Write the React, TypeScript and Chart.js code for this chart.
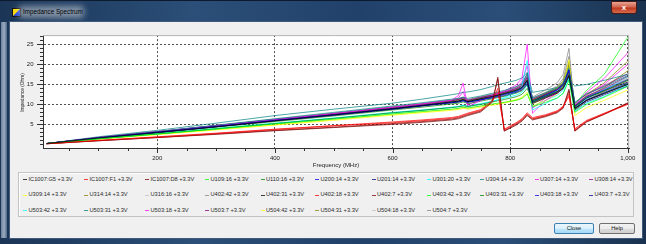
import React, { useEffect, useRef } from 'react';
import { Chart, registerables } from 'chart.js';

Chart.register(...registerables);

// ---------------- data ----------------
const FREQ_MHZ = [12, 100, 200, 300, 400, 500, 600, 650, 700, 712, 720, 728, 750, 770, 779, 790, 810, 820, 829, 838, 860, 880, 890, 900, 910, 930, 960, 1000];

const SERIES_NAMES = [
  'IC1007:G5 +3.3V', 'IC1007:F1 +3.3V', 'IC1007:D8 +3.3V', 'U109:16 +3.3V', 'U110:16 +3.3V', 'U200:14 +3.3V',
  'U201:14 +3.3V', 'U301:20 +3.3V', 'U304:14 +3.3V', 'U307:14 +3.3V', 'U308:14 +3.3V',
  'U309:14 +3.3V', 'U314:14 +3.3V', 'U316:16 +3.3V', 'U402:42 +3.3V', 'U402:31 +3.3V', 'U402:18 +3.3V',
  'U402:7 +3.3V', 'U403:42 +3.3V', 'U403:31 +3.3V', 'U403:18 +3.3V', 'U403:7 +3.3V',
  'U503:42 +3.3V', 'U503:31 +3.3V', 'U503:18 +3.3V', 'U503:7 +3.3V', 'U504:42 +3.3V', 'U504:31 +3.3V',
  'U504:18 +3.3V', 'U504:7 +3.3V',
];

const SERIES_COLORS = [
  '#000000', '#ff0000', '#800000', '#00ff00', '#008000', '#0000ff', '#000080', '#00ffff', '#008080', '#ff00ff', '#800080',
  '#ffff00', '#808000', '#c0c0c0', '#808080', '#000000', '#ff0000', '#800000', '#00ff00', '#008000', '#0000ff', '#000080',
  '#00ffff', '#008080', '#ff00ff', '#800080', '#ffff00', '#808000', '#c0c0c0', '#808080',
];

const IC1007_G5 = [0.2, 1.6, 3.0, 4.4, 5.9, 7.4, 8.9, 9.7, 10.6, 10.8, 11.2, 10.7, 11.4, 12.0, 12.3, 12.7, 13.5, 14.2, 16.0, 10.2, 11.6, 12.8, 13.9, 17.2, 9.0, 11.0, 12.7, 15.0];
const IC1007_F1 = [0.15, 1.0, 1.8, 2.7, 3.7, 4.6, 5.4, 5.9, 6.5, 6.8, 7.2, 7.6, 8.5, 10.8, 14.0, 3.6, 5.2, 6.2, 7.6, 6.4, 7.2, 8.2, 9.3, 12.6, 3.6, 5.8, 7.6, 10.0];
const IC1007_D8 = [0.15, 0.9, 1.7, 2.5, 3.4, 4.2, 5.0, 5.5, 6.1, 6.4, 6.8, 7.2, 8.1, 10.6, 16.8, 3.3, 4.8, 5.8, 7.2, 6.1, 6.9, 7.9, 9.0, 13.4, 3.3, 5.6, 7.5, 10.3];
const U109_16 = [0.2, 1.4, 2.6, 3.8, 5.1, 6.3, 7.6, 8.2, 8.8, 9.0, 9.3, 9.1, 9.6, 10.1, 10.3, 10.5, 11.0, 11.5, 12.6, 9.4, 10.5, 11.6, 12.7, 16.0, 8.0, 10.0, 11.8, 14.5];
const U110_16 = [0.2, 1.4, 2.6, 3.9, 5.2, 6.5, 7.9, 8.5, 9.2, 9.4, 9.6, 9.5, 10.0, 10.6, 10.9, 11.2, 11.9, 12.5, 14.0, 10.8, 12.0, 13.2, 14.4, 17.8, 9.5, 11.6, 13.4, 16.0];
const U200_14 = [0.2, 1.6, 3.0, 4.5, 6.0, 7.4, 8.9, 9.7, 10.5, 10.7, 11.0, 10.6, 11.2, 11.8, 12.1, 12.5, 13.3, 14.0, 15.8, 10.8, 12.2, 13.5, 14.8, 18.6, 9.6, 11.8, 13.6, 16.2];
const U201_14 = [0.2, 1.6, 3.0, 4.4, 5.9, 7.3, 8.8, 9.6, 10.4, 10.6, 10.9, 10.5, 11.1, 11.6, 11.9, 12.2, 13.0, 13.6, 15.2, 10.4, 11.8, 13.0, 14.1, 17.0, 9.0, 11.0, 12.8, 15.0];
const U301_20 = [0.2, 1.4, 2.6, 3.9, 5.2, 6.5, 7.8, 8.5, 9.2, 9.4, 9.8, 9.4, 10.0, 10.7, 11.2, 11.7, 13.0, 14.5, 21.0, 8.6, 10.2, 11.6, 12.8, 16.5, 8.3, 10.3, 12.0, 14.8];
const U304_14 = [0.2, 1.7, 3.2, 4.8, 6.4, 8.0, 9.6, 10.4, 11.3, 11.5, 11.8, 11.5, 12.1, 12.8, 13.1, 13.5, 14.4, 15.2, 17.8, 11.6, 12.9, 14.1, 15.2, 19.0, 10.5, 12.6, 14.4, 17.2];
const U307_14 = [0.2, 1.7, 3.2, 4.7, 6.2, 7.7, 9.3, 10.1, 11.0, 12.2, 15.3, 9.4, 11.0, 12.2, 12.7, 13.3, 14.8, 16.5, 25.0, 7.8, 11.0, 12.8, 14.0, 17.8, 9.8, 13.0, 16.5, 22.9];
const U308_14 = [0.2, 1.7, 3.1, 4.6, 6.1, 7.6, 9.2, 10.0, 10.9, 11.2, 11.6, 11.0, 11.7, 12.3, 12.6, 13.0, 13.8, 14.6, 16.6, 11.2, 12.6, 13.8, 15.0, 18.4, 9.8, 12.0, 14.0, 17.0];
const U309_14 = [0.2, 1.3, 2.4, 3.6, 4.8, 6.0, 7.3, 7.9, 8.5, 8.7, 9.0, 8.8, 9.3, 9.8, 10.0, 10.3, 11.0, 11.5, 12.6, 9.6, 11.0, 12.6, 14.4, 21.2, 7.2, 9.2, 11.0, 13.6];
const U314_14 = [0.2, 1.6, 3.0, 4.5, 6.0, 7.5, 9.1, 9.9, 10.8, 11.0, 11.3, 10.9, 11.5, 12.1, 12.4, 12.8, 13.6, 14.3, 16.2, 11.0, 12.6, 14.0, 15.4, 19.8, 9.2, 12.4, 15.4, 20.8];
const U316_16 = [0.2, 1.6, 3.1, 4.6, 6.1, 7.6, 9.2, 10.0, 10.8, 11.0, 11.4, 11.0, 11.6, 12.2, 12.5, 12.9, 13.7, 14.4, 16.4, 11.4, 12.9, 14.2, 15.5, 19.4, 10.0, 12.2, 14.0, 16.6];
const U402_42 = [0.2, 1.7, 3.2, 4.7, 6.3, 7.8, 9.4, 10.2, 11.1, 11.3, 11.6, 11.2, 11.9, 12.6, 12.9, 13.3, 14.2, 15.0, 17.2, 11.8, 13.6, 15.4, 17.5, 24.0, 8.2, 11.0, 13.2, 16.0];
const U402_31 = [0.2, 1.6, 3.0, 4.5, 6.0, 7.5, 9.0, 9.8, 10.7, 10.9, 11.2, 10.8, 11.5, 12.1, 12.4, 12.8, 13.6, 14.3, 16.2, 10.9, 12.4, 13.7, 15.0, 18.8, 9.4, 11.6, 13.4, 15.6];
const U402_18 = [0.15, 1.0, 1.9, 2.8, 3.8, 4.7, 5.6, 6.1, 6.7, 7.0, 7.4, 7.8, 8.7, 11.2, 13.0, 3.8, 5.4, 6.4, 7.9, 6.7, 7.4, 8.4, 9.5, 12.0, 3.9, 6.0, 7.8, 10.1];
const U402_7 = [0.15, 0.9, 1.7, 2.6, 3.5, 4.3, 5.2, 5.7, 6.3, 6.6, 7.0, 7.4, 8.3, 10.9, 16.3, 3.4, 5.0, 6.0, 7.4, 6.3, 7.1, 8.1, 9.2, 13.8, 3.4, 5.7, 7.6, 10.4];
const U403_42 = [0.2, 1.6, 3.0, 4.5, 6.0, 7.5, 9.0, 9.8, 10.6, 10.8, 11.1, 10.7, 11.3, 11.9, 12.2, 12.6, 13.4, 14.1, 15.8, 11.0, 12.6, 14.0, 15.4, 19.5, 10.0, 13.5, 17.5, 26.8];
const U403_31 = [0.2, 1.5, 2.9, 4.3, 5.7, 7.1, 8.6, 9.3, 10.1, 10.3, 10.6, 10.2, 10.8, 11.4, 11.7, 12.0, 12.8, 13.4, 15.0, 10.6, 12.0, 13.2, 14.4, 17.6, 8.8, 11.0, 12.8, 15.2];
const U403_18 = [0.2, 1.6, 3.1, 4.6, 6.1, 7.6, 9.1, 9.9, 10.8, 11.0, 11.3, 10.9, 11.5, 12.1, 12.4, 12.8, 13.6, 14.4, 16.8, 10.8, 12.3, 13.6, 14.8, 18.2, 9.0, 11.2, 13.0, 15.4];
const U403_7 = [0.2, 1.5, 2.9, 4.4, 5.9, 7.3, 8.8, 9.6, 10.4, 10.6, 10.9, 10.6, 11.2, 11.8, 12.1, 12.5, 13.2, 13.9, 15.6, 10.6, 12.0, 13.2, 14.3, 17.4, 8.6, 10.6, 12.4, 14.6];
const U503_42 = [0.2, 1.4, 2.7, 4.0, 5.3, 6.6, 8.0, 8.6, 9.3, 9.5, 9.8, 9.6, 10.2, 10.8, 11.1, 11.5, 12.3, 13.0, 14.8, 9.5, 11.0, 12.3, 13.5, 17.0, 9.2, 11.5, 13.6, 16.8];
const U503_31 = [0.2, 1.9, 3.5, 5.3, 7.2, 8.8, 10.3, 11.3, 12.4, 12.7, 13.0, 13.1, 13.7, 14.5, 14.9, 15.3, 16.0, 16.6, 18.0, 13.0, 13.6, 14.2, 14.8, 16.0, 14.6, 15.0, 16.0, 17.5];
const U503_18 = [0.2, 1.7, 3.1, 4.6, 6.1, 7.6, 9.1, 9.9, 10.8, 11.6, 13.2, 9.9, 11.2, 12.0, 12.5, 13.0, 14.3, 15.6, 19.7, 9.0, 11.6, 13.0, 14.2, 18.0, 9.4, 12.2, 15.0, 20.0];
const U503_7 = [0.2, 1.7, 3.2, 4.7, 6.2, 7.7, 9.3, 10.1, 11.0, 11.3, 11.8, 11.1, 11.8, 12.4, 12.7, 13.1, 14.0, 14.8, 17.4, 11.4, 12.8, 14.0, 15.2, 18.6, 10.2, 12.6, 14.6, 17.6];
const U504_42 = [0.2, 1.3, 2.5, 3.7, 4.9, 6.2, 7.5, 8.1, 8.7, 8.9, 9.2, 9.0, 9.5, 10.0, 10.2, 10.5, 11.2, 11.8, 13.0, 10.2, 11.6, 13.0, 14.4, 18.5, 8.6, 11.0, 13.2, 16.2];
const U504_31 = [0.2, 1.6, 3.0, 4.5, 6.0, 7.5, 9.0, 9.8, 10.7, 10.9, 11.2, 10.8, 11.4, 12.0, 12.3, 12.7, 13.5, 14.2, 16.0, 11.2, 12.8, 14.3, 15.8, 20.6, 9.6, 12.0, 14.2, 18.4];
const U504_18 = [0.2, 1.6, 3.1, 4.6, 6.1, 7.6, 9.1, 9.9, 10.8, 11.0, 11.3, 10.9, 11.5, 12.1, 12.4, 12.8, 13.6, 14.3, 16.0, 11.6, 13.0, 14.4, 15.8, 20.0, 10.4, 12.8, 14.8, 17.8];
const U504_7 = [0.2, 1.7, 3.1, 4.7, 6.2, 7.7, 9.2, 10.0, 10.9, 11.1, 11.4, 11.0, 11.7, 12.3, 12.6, 13.0, 13.9, 14.6, 16.8, 11.5, 13.0, 14.6, 16.4, 22.0, 9.0, 11.8, 13.8, 16.4];

const SERIES_VALUES = [
  IC1007_G5, IC1007_F1, IC1007_D8, U109_16, U110_16, U200_14, U201_14, U301_20, U304_14, U307_14, U308_14,
  U309_14, U314_14, U316_16, U402_42, U402_31, U402_18, U402_7, U403_42, U403_31, U403_18, U403_7,
  U503_42, U503_31, U503_18, U503_7, U504_42, U504_31, U504_18, U504_7,
];

const X_TICKS = [50, 100, 150, 200, 250, 300, 350, 400, 450, 500, 550, 600, 650, 700, 750, 800, 850, 900, 950, 1000];
const X_LABELED = [200, 400, 600, 800, 1000];
const Y_TICKS = [0, 1, 2, 3, 4, 5, 6, 7, 8, 9, 10, 11, 12, 13, 14, 15, 16, 17, 18, 19, 20, 21, 22, 23, 24, 25, 26, 27];
const Y_LABELED = [5, 10, 15, 20, 25];
const X_RANGE = [5.7, 1002.2];
const Y_RANGE = [-0.91, 27.32];

const X_TITLE = 'Frequency (MHz)';
const Y_TITLE = 'Impedance (Ohm)';
const WINDOW_TITLE = 'Impedance Spectrum';

const FONT = '"Liberation Sans", Arial, sans-serif';

const decorPlugin = {
  id: 'decor',
  beforeDraw(chart: any) {
    const { ctx, chartArea: a } = chart;
    ctx.save();
    ctx.fillStyle = '#ffffff';
    ctx.fillRect(a.left, a.top, a.right - a.left, a.bottom - a.top);
    ctx.restore();
  },
  afterDraw(chart: any) {
    const { ctx, chartArea: a, scales } = chart;
    const xs = scales.x;
    const ys = scales.y;
    ctx.save();
    ctx.lineWidth = 1;
    ctx.strokeStyle = '#b4b4b4';
    ctx.beginPath();
    ctx.moveTo(a.left, a.top + 0.5);
    ctx.lineTo(a.right - 0.5, a.top + 0.5);
    ctx.lineTo(a.right - 0.5, a.bottom);
    ctx.stroke();

    ctx.strokeStyle = '#333333';
    ctx.beginPath();
    for (const v of X_TICKS) {
      const px = Math.round(xs.getPixelForValue(v)) + 0.5;
      const len = X_LABELED.includes(v) ? 5 : 3;
      ctx.moveTo(px, a.bottom);
      ctx.lineTo(px, a.bottom + len);
    }
    for (const v of Y_TICKS) {
      const py = Math.round(ys.getPixelForValue(v)) + 0.5;
      const len = Y_LABELED.includes(v) ? 6 : 3;
      ctx.moveTo(a.left, py);
      ctx.lineTo(a.left - len, py);
    }
    ctx.stroke();

    ctx.fillStyle = '#222222';
    ctx.textAlign = 'center';
    ctx.textBaseline = 'middle';
    ctx.font = `6px ${FONT}`;
    ctx.fillText(X_TITLE, (a.left + a.right) / 2, 143);
    ctx.translate(12.7, 70.5);
    ctx.rotate(-Math.PI / 2);
    ctx.font = `4.8px ${FONT}`;
    ctx.fillText(Y_TITLE, 0, 0);
    ctx.restore();
  },
};

const LEGEND_COLS = [13, 74, 135, 195, 250.5, 305, 361.5, 417, 470, 524.5, 579];
const LEGEND_ROWS = [157.5, 173, 188.5];

export default function App() {
  const ref = useRef<HTMLCanvasElement>(null);

  useEffect(() => {
    const canvas = ref.current;
    if (!canvas) return;
    const datasets = SERIES_NAMES.map((name, i) => ({
      label: name,
      data: SERIES_VALUES[i].map((v, j) => ({ x: FREQ_MHZ[j], y: v })),
      borderColor: SERIES_COLORS[i],
      backgroundColor: SERIES_COLORS[i],
      borderWidth: 0.7,
      pointRadius: 0,
      pointHoverRadius: 0,
      tension: 0,
      fill: false,
    }));
    const chart = new Chart(canvas, {
      type: 'line',
      data: { datasets },
      plugins: [decorPlugin],
      options: {
        responsive: false,
        animation: false,
        devicePixelRatio: 1,
        events: [],
        layout: { padding: { left: 0, top: 8, right: 9, bottom: 0 }, autoPadding: false },
        plugins: { legend: { display: false }, tooltip: { enabled: false } },
        scales: {
          x: {
            type: 'linear',
            min: X_RANGE[0],
            max: X_RANGE[1],
            afterBuildTicks: (ax: any) => { ax.ticks = X_TICKS.map((v) => ({ value: v })); },
            afterFit: (ax: any) => { ax.height = 22; },
            ticks: {
              autoSkip: false, maxRotation: 0, minRotation: 0, padding: 6.7, color: '#222222',
              font: { family: FONT, size: 6 },
              callback: (v: any) => (X_LABELED.includes(Number(v)) ? Number(v).toLocaleString('en-US') : ''),
            },
            grid: {
              drawTicks: false,
              lineWidth: 1,
              color: (c: any) => (c.tick && X_LABELED.includes(c.tick.value) ? '#505050' : 'rgba(0,0,0,0)'),
            },
            border: { display: true, color: '#333333', width: 1, dash: [2, 2] },
          },
          y: {
            type: 'linear',
            min: Y_RANGE[0],
            max: Y_RANGE[1],
            afterBuildTicks: (ax: any) => { ax.ticks = Y_TICKS.map((v) => ({ value: v })); },
            afterFit: (ax: any) => { ax.width = 33; },
            ticks: {
              autoSkip: false, padding: 9.5, color: '#222222',
              font: { family: FONT, size: 6 },
              callback: (v: any) => (Y_LABELED.includes(Number(v)) ? String(v) : ''),
            },
            grid: {
              drawTicks: false,
              lineWidth: 1,
              color: (c: any) => (c.tick && Y_LABELED.includes(c.tick.value) ? '#505050' : 'rgba(0,0,0,0)'),
            },
            border: { display: true, color: '#333333', width: 1, dash: [2, 2] },
          },
        },
      } as any,
    });
    return () => chart.destroy();
  }, []);

  return (
    <div
      style={{
        position: 'absolute', left: 0, top: 0, width: 646, height: 244, overflow: 'hidden',
        background: 'linear-gradient(90deg, #1b3556 0%, #2b4f78 30%, #21416a 55%, #2a4e78 78%, #19324f 100%)',
        fontFamily: FONT,
      }}
    >
      <div style={{ position: 'absolute', left: 0, top: 0, width: 646, height: 1, background: '#0b1a2e' }} />
      <div style={{ position: 'absolute', left: 1, top: 22, width: 6, height: 216, background: 'linear-gradient(90deg, #6c819c, #9aabbf, #50698a)' }} />
      {/* icon */}
      <div style={{ position: 'absolute', left: 12, top: 8, width: 7, height: 7, border: '1px solid #111', background: 'linear-gradient(135deg, #ffd800 0%, #ffd800 48%, #1a3cd0 52%, #1a3cd0 100%)' }} />
      {/* title */}
      <div style={{ position: 'absolute', left: 18, top: 6, width: 66, height: 12, background: 'rgba(255,255,255,0.45)', filter: 'blur(3px)', borderRadius: 4 }} />
      <div style={{ position: 'absolute', left: 23, top: 12, transform: 'translateY(-50%)', fontSize: 6.3, color: '#000', whiteSpace: 'nowrap', lineHeight: 1 }}>{WINDOW_TITLE}</div>
      {/* close X */}
      <div style={{
        position: 'absolute', left: 611, top: 1, width: 26, height: 13, borderRadius: '0 0 3px 3px',
        border: '1px solid #4a1a14', background: 'linear-gradient(180deg, #e8a494 0%, #d2634c 45%, #bf3a22 55%, #d66a4a 100%)',
        color: '#fff', fontSize: 8, fontWeight: 'bold', textAlign: 'center', lineHeight: '12px', boxSizing: 'border-box',
      }}>x</div>
      {/* client area */}
      <div style={{ position: 'absolute', left: 10, top: 22, width: 632, height: 216, background: '#f0f0f0', boxShadow: '0 0 0 1px #3f5a7c' }}>
        <canvas ref={ref} width={632} height={148} style={{ position: 'absolute', left: 0, top: 0, width: 632, height: 148 }} />
        <div style={{ position: 'absolute', left: 8, top: 150, width: 616, height: 45, border: '1px solid #c3c3c3', boxSizing: 'border-box', boxShadow: 'inset 1px 1px 0 #ffffff' }} />
        {SERIES_NAMES.map((name, i) => {
          const col = LEGEND_COLS[i % 11];
          const row = LEGEND_ROWS[Math.floor(i / 11)];
          return (
            <React.Fragment key={name}>
              <div style={{ position: 'absolute', left: col, top: row - 0.5, width: 4, height: 1, background: SERIES_COLORS[i], opacity: 0.75 }} />
              <div style={{ position: 'absolute', left: col + 5.5, top: row, transform: 'translateY(-50%)', fontSize: 5.7, lineHeight: 1, color: '#2a2a2a', whiteSpace: 'nowrap' }}>{name}</div>
            </React.Fragment>
          );
        })}
        <div style={{
          position: 'absolute', left: 544, top: 200.5, width: 40, height: 11.5, boxSizing: 'border-box',
          border: '1px solid #3c7fb1', borderRadius: 2, background: 'linear-gradient(180deg, #eaf6fd 0%, #d9f0fc 50%, #bee6fd 51%, #a7d9f5 100%)',
          fontSize: 5.7, color: '#111', textAlign: 'center', lineHeight: '9.5px',
        }}>Close</div>
        <div style={{
          position: 'absolute', left: 589, top: 200.5, width: 36, height: 11.5, boxSizing: 'border-box',
          border: '1px solid #707070', borderRadius: 2, background: 'linear-gradient(180deg, #f2f2f2 0%, #ebebeb 50%, #dddddd 51%, #cfcfcf 100%)',
          fontSize: 5.7, color: '#111', textAlign: 'center', lineHeight: '9.5px',
        }}>Help</div>
      </div>
    </div>
  );
}
